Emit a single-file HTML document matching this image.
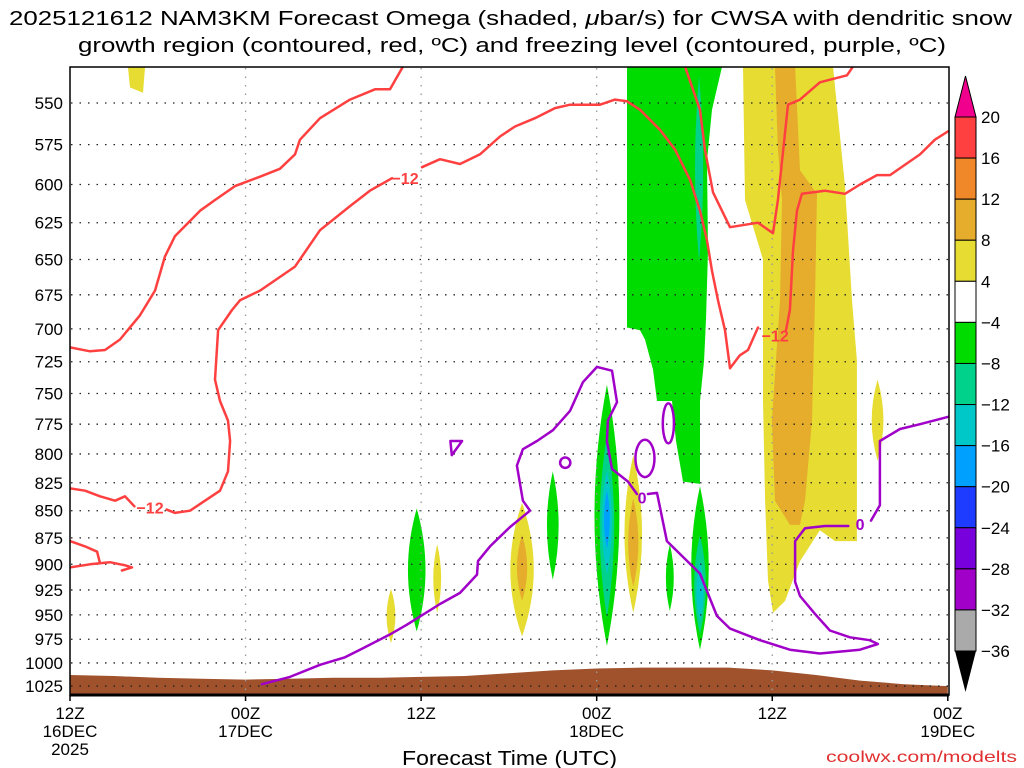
<!DOCTYPE html>
<html><head><meta charset="utf-8"><style>
html,body{margin:0;padding:0;background:#fff;}
svg{display:block;font-family:"Liberation Sans","DejaVu Sans",sans-serif;}
</style></head><body>
<svg id="chart" width="1024" height="768" viewBox="0 0 1024 768" xmlns="http://www.w3.org/2000/svg">
<rect x="0" y="0" width="1024" height="768" fill="#fff"/>
<text x="9" y="25" textLength="1003" lengthAdjust="spacingAndGlyphs" font-size="20" fill="#000">2025121612 NAM3KM Forecast Omega (shaded, <tspan font-style="italic">μ</tspan>bar/s) for CWSA with dendritic snow</text>
<text x="78" y="52" textLength="868" lengthAdjust="spacingAndGlyphs" font-size="20" fill="#000">growth region (contoured, red, ºC) and freezing level (contoured, purple, ºC)</text>
<g id="shade"></g>
<g id="terrain"></g>
<g id="grid"></g>
<g id="contours"></g>
<rect x="70" y="67" width="879" height="628" fill="none" stroke="#000" stroke-width="1.5"/>
<line x1="70" y1="695" x2="949" y2="695" stroke="#000" stroke-width="3"/>
<g id="yaxis"></g>
<g id="xaxis"></g>
<text x="402" y="765" textLength="215" lengthAdjust="spacingAndGlyphs" font-size="20" fill="#000">Forecast Time (UTC)</text>
<text x="826" y="762" textLength="191" lengthAdjust="spacingAndGlyphs" font-size="16" fill="#e03030">coolwx.com/modelts</text>
<g id="cbar"></g>
</svg>
<script>
// ---- axis data ----
const pressureTicks = [550,575,600,625,650,675,700,725,750,775,800,825,850,875,900,925,950,975,1000,1025];
const timeTickHours = [0,12,24,36,48,60];
const timeTickLabels = [["12Z","16DEC","2025"],["00Z","17DEC"],["12Z"],["00Z","18DEC"],["12Z"],["00Z","19DEC"]];
// ---- colorbar data ----
const cbarLabels = ["20","16","12","8","4","-4","-8","-12","-16","-20","-24","-28","-32","-36"];
const cbarColors = ["#ff4040","#f0882a","#e6ad2d","#e6dc32","#ffffff","#00dc00","#00d28c","#00c8c8","#00a0ff","#1e3cff","#7800dc","#a000c8","#aaaaaa"];
// ---- terrain (surface pressure every 3h) ----
const terrainHours = [0,3,6,9,12,15,18,21,24,27,30,33,36,39,42,45,48,51,54,57,60];
const terrainPress = [1013,1014,1016,1017,1018,1017,1016,1016,1015,1014,1011,1008,1006,1005,1005,1005,1008,1013,1019,1023,1025];
// ---- shaded polygons (hours, hPa) ----
const greenBlockHours = [38.07,44.57,43.88,43.54,43.61,43.47,43.34,43.06,43.06,41.9,41.42,41.15,40.12,39.85,39.3,38.96,38.07];
const greenBlockPress = [529,529,554,585,644,693,724,756,826,824,789,756,756,731,708,701,699];
const yellowBandHours = [46.0,52.15,52.97,53.45,53.79,53.79,52.29,51.26,49.9,48.87,48.05,47.71,47.51,47.37,47.37,46.14];
const yellowBandPress = [529,529,601,679,724,878,878,868,897,936,948,916,841,756,650,610];
const orangeBandHours = [48.19,49.56,49.9,51.06,50.92,50.72,50.24,49.9,49.21,48.19,47.98,48.53,48.67,48.39];
const orangeBandPress = [529,529,591,606,679,772,841,863,863,841,772,679,610,578];
const yellowTopHours = [3.96,5.13,4.99,4.1];
const yellowTopPress = [529,529,544,541];
// ---- lens-shaped omega cells: center hour, top hPa, bottom hPa, half-width hours, level index ----
const cellHour  = [21.94,23.7,25.1,30.9,30.9,33.0,36.7,36.7,36.7,36.7,38.5,38.5,41.0,43.06,43.06,43.06,43.0,55.2];
const cellTop   = [924,848,881,843,872,815,743,784,814,832,801,839,881,828,872,897,534,739];
const cellBot   = [979,967,948,972,936,915,982,953,910,885,948,922,946,986,970,957,651,806];
const cellHalfW = [0.3,0.6,0.27,0.8,0.35,0.4,0.85,0.5,0.35,0.2,0.6,0.35,0.27,0.6,0.4,0.25,0.28,0.4];
const cellLevel = [3,5,3,3,2,5,5,6,7,8,3,2,5,5,6,7,6,3];
// ---- red -12C contours ----
const red1Hours = [0,1.37,2.39,3.42,4.78,5.81,6.49,7.18,8.89,9.91,11.28,12.99,14.35,15.38,15.72,17.09,19.14,20.85,21.87,22.76];
const red1Press = [714,717,716,708,690,672,648,634,617,610,601,595,590,581,572,559,548,542,542,529];
const red2Hours = [22.01,20.5,19.14,17.09,15.38,12.99,11.62,11.07,10.12,9.91,10.25,10.8,10.94,10.8,10.25,9.23,8.2,7.18,6.6];
const red2Press = [596,604,614,630,655,672,679,686,701,739,756,772,789,815,832,841,850,852,849];
const red2bHours = [4.4,3.76,3.08,2.05,1.03,0];
const red2bPress = [846,837,841,837,832,830];
const red3Hours = [24.06,25.29,26.66,28.02,29.39,30.42,31.78,33.15,34.18,36.23,37.25,38.07,38.96,40.33,41.35,42.38,43.06,43.54,43.88,44.29,44.77,45.11,45.79,46.34,47.03];
const red3Press = [589,584,587,581,570,564,559,553,551,551,548,549,554,566,578,597,617,637,658,679,701,730,720,716,699];
const red3bHours = [48.94,49.21,49.42,49.69,50.03,51.6,52.97,54.0,55.16,56.05,58.1,59.12,60];
const red3bPress = [701,686,644,617,606,604,606,600,594,594,581,572,567];
const red4Hours = [42.04,43.06,43.4,43.95,45.11,47.03,48.05,48.39,49.08,49.9,51.26,53.11,53.52];
const red4Press = [529,554,578,605,628,625,632,610,551,548,538,534,529];
const red5Hours = [0,1.03,1.85,2.05];
const red5Press = [878,883,888,899];
const red6Hours = [0,1.37,2.73,3.76,4.24,3.55];
const red6Press = [903,900,898,901,903,906];
const redLabelHours = [22.9,5.47,48.2];
const redLabelPress = [596,847,705];
// ---- purple 0C contour ----
const purpleHours = [13.12,15.04,17.09,18.8,19.82,21.87,23.03,25.29,26.66,27.82,27.89,28.71,30.07,31.44,30.96,30.55,30.96,31.92,33.01,34.18,35.06,36.02,37.05,37.39,36.77,36.7,37.05,38.14,38.75];
const purplePress = [1023,1015,1002,994,986,970,960,939,928,910,897,883,865,850,841,810,796,789,780,764,741,729,732,757,772,789,813,824,835];
const purple2Hours = [39.5,40.12,40.8,43.06,44.22,45.11,47.16,49.21,51.26,53.99,55.22,54.67,53.31,51.94,50.92,49.9,49.56,49.56,50.24,51.6,53.2];
const purple2Press = [835,834,878,909,951,964,976,986,990,986,980,976,973,966,949,931,917,878,866,864,864];
const purple3Hours = [54.75,55.36,55.36,56.73,58.1,60];
const purple3Press = [859,845,789,779,775,769];
const purpleTriHours = [26.0,26.8,26.1,26.0];
const purpleTriPress = [789,789,801,789];
const purpleLoopHour = [33.85,39.3,40.9];
const purpleLoopTop  = [803,788,758];
const purpleLoopBot  = [812,820,791];
const purpleLoopHalfW= [0.35,0.65,0.38];
const purpleLabelHours = [39.1,54.0];
const purpleLabelPress = [838,862];

// ---- axis functions ----
const X0=70, PXH=14.63, Y550=103, PXLN=936.6;
function X(h){return X0+h*PXH;}
function Y(p){return Y550+(Math.log(p)-Math.log(550))*PXLN;}
const NS="http://www.w3.org/2000/svg";
function mk(tag,attrs,parent){const e=document.createElementNS(NS,tag);for(const k in attrs)e.setAttribute(k,attrs[k]);parent.appendChild(e);return e;}
function pts(hs,ps){return hs.map((h,i)=>X(h).toFixed(1)+","+Y(ps[i]).toFixed(1)).join(" ");}

const shade=document.getElementById('shade');
const defs=mk('defs',{},document.getElementById('chart'));
const cp=mk('clipPath',{id:'plotclip'},defs);
mk('rect',{x:70,y:67,width:879,height:628},cp);
shade.setAttribute('clip-path','url(#plotclip)');

function poly(hs,ps,color,name){
  const e=mk('polygon',{points:pts(hs,ps),fill:color},shade);
  
  
}
poly(yellowTopHours,yellowTopPress,cbarColors[3],'upward-motion-area-top-left');
poly(greenBlockHours,greenBlockPress,cbarColors[5],'upward-motion-area-upper');
poly(yellowBandHours,yellowBandPress,cbarColors[3],'downward-motion-band');
poly(orangeBandHours,orangeBandPress,cbarColors[2],'downward-motion-band-core');

function lens(h,top,bot,hw,color,parent){
  const xc=X(h), yt=Y(top), yb=Y(bot), ym=(yt+yb)/2, dx=hw*PXH*2;
  const d=`M${xc},${yt} Q${xc+dx},${ym} ${xc},${yb} Q${xc-dx},${ym} ${xc},${yt}Z`;
  return mk('path',{d:d,fill:color},parent);
}
for(let i=0;i<cellHour.length;i++){
  const e=lens(cellHour[i],cellTop[i],cellBot[i],cellHalfW[i],cbarColors[cellLevel[i]],shade);
  
  
}

const terr=document.getElementById('terrain');
{
  const hs=terrainHours.concat([60,0]);
  const ps=terrainPress.concat([1040,1040]);
  const e=mk('polygon',{points:pts(hs,ps),fill:'#a0522d'},terr);
  e.setAttribute('clip-path','url(#plotclip)');
  
  
}

const grid=document.getElementById('grid');
pressureTicks.forEach(p=>{
  const e=mk('line',{x1:71,x2:948,y1:Y(p),y2:Y(p),stroke:'#222','stroke-width':1.3,'stroke-dasharray':'1.5,7'},grid);
  
  
});
timeTickHours.slice(1,5).forEach(h=>{
  const e=mk('line',{x1:X(h),x2:X(h),y1:68,y2:694,stroke:'#999','stroke-width':1.3,'stroke-dasharray':'1.5,7'},grid);
  
  
});

const cg=document.getElementById('contours');
cg.setAttribute('clip-path','url(#plotclip)');
function line(hs,ps,color,name){
  const e=mk('polyline',{points:pts(hs,ps),fill:'none',stroke:color,'stroke-width':2.5,'stroke-linejoin':'round','stroke-linecap':'round'},cg);
  
  
}
const RED='#ff4040', PUR='#a000c8';
line(red1Hours,red1Press,RED,'dgz-contour-line');
line(red2Hours,red2Press,RED,'dgz-contour-line');
line(red2bHours,red2bPress,RED,'dgz-contour-line');
line(red3Hours,red3Press,RED,'dgz-contour-line');
line(red3bHours,red3bPress,RED,'dgz-contour-line');
line(red4Hours,red4Press,RED,'dgz-contour-line');
line(red5Hours,red5Press,RED,'dgz-contour-line');
line(red6Hours,red6Press,RED,'dgz-contour-line');
line(purpleHours,purplePress,PUR,'freezing-level-line');
line(purple2Hours,purple2Press,PUR,'freezing-level-line');
line(purple3Hours,purple3Press,PUR,'freezing-level-line');
line(purpleTriHours,purpleTriPress,PUR,'freezing-level-loop');
for(let i=0;i<purpleLoopHour.length;i++){
  const e=mk('ellipse',{cx:X(purpleLoopHour[i]),cy:(Y(purpleLoopTop[i])+Y(purpleLoopBot[i]))/2,rx:purpleLoopHalfW[i]*PXH,ry:(Y(purpleLoopBot[i])-Y(purpleLoopTop[i]))/2,fill:'none',stroke:PUR,'stroke-width':2.5},cg);
  
  
}
redLabelHours.forEach((h,i)=>{
  const e=mk('text',{x:X(h),y:Y(redLabelPress[i])+6,'text-anchor':'middle','font-size':16,'font-weight':'bold',fill:RED},cg);
  e.textContent='−12';
  
  
});
purpleLabelHours.forEach((h,i)=>{
  const e=mk('text',{x:X(h),y:Y(purpleLabelPress[i])+6,'text-anchor':'middle','font-size':16,'font-weight':'bold',fill:PUR},cg);
  e.textContent='0';
  
  
});

const ya=document.getElementById('yaxis');
pressureTicks.forEach(p=>{
  const t=mk('text',{x:63,y:Y(p)+6,'text-anchor':'end','font-size':17,fill:'#000'},ya);
  t.textContent=p;
  
  
});
const xa=document.getElementById('xaxis');
timeTickHours.forEach((h,i)=>{
  const tk=mk('line',{x1:X(h),x2:X(h),y1:695,y2:701,stroke:'#000','stroke-width':1.5},xa);
  
  
  timeTickLabels[i].forEach((s,j)=>{
    const t=mk('text',{x:X(h),y:719+j*18,'text-anchor':'middle','font-size':17,fill:'#000'},xa);
    t.textContent=s;
    
    
  });
});
const cb=document.getElementById('cbar');
const CBX=955, CBW=21, CBTOP=117, CBSTEP=(651-117)/13;
{
  const e=mk('polygon',{points:`${CBX},${CBTOP} ${CBX+CBW},${CBTOP} ${CBX+CBW/2},76`,fill:'#f0008c',stroke:'#000','stroke-width':1},cb);
  
  
}
cbarColors.forEach((c,i)=>{
  const r=mk('rect',{x:CBX,y:CBTOP+i*CBSTEP,width:CBW,height:CBSTEP,fill:c,stroke:'#000','stroke-width':1},cb);
  
  
});
{
  const e=mk('polygon',{points:`${CBX},651 ${CBX+CBW},651 ${CBX+CBW/2},692`,fill:'#000'},cb);
  
  
}
cbarLabels.forEach((s,i)=>{
  const t=mk('text',{x:981,y:CBTOP+i*CBSTEP+6,'font-size':17,fill:'#000'},cb);
  t.textContent=s.replace('-','−');
  
  
});
</script>
</body></html>
